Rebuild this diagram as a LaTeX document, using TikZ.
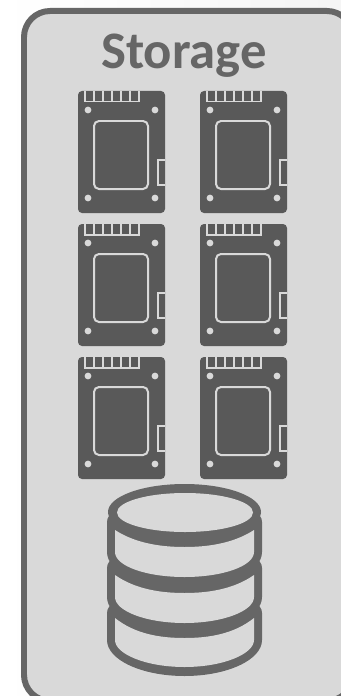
\documentclass[tikz,border=0pt]{standalone}
\usepackage{fontspec}
\setmainfont{Carlito}
\usepackage{xcolor}
\usetikzlibrary{positioning}
\definecolor{panelgray}{HTML}{D9D9D9}
\definecolor{framegray}{HTML}{666666}
\definecolor{drivegray}{HTML}{595959}
% one drive, #1/#2 = top left corner
\newcommand{\ssddrive}[2]{%
  \begin{scope}[shift={(#1,#2)}]
    \fill[drivegray, rounded corners=0.08cm] (0,0) rectangle (87,122);
    \draw[drvline] (7,0) -- (7,10.5) -- (61,10.5) -- (61,0);
    \foreach \tx in {16,25,34,43,52} \draw[drvline] (\tx,0) -- (\tx,10.5);
    \draw[drvline, rounded corners=0.1cm] (16,30) rectangle (70,98);
    \draw[drvline] (87,69) -- (80,69) -- (80,94) -- (87,94);
    \fill[panelgray] (10,19) circle (3.4) (77,19) circle (3.4) (10,107) circle (3.4) (77,107) circle (3.4);
  \end{scope}}
% outer shape of one disc: top, side end, bottom
\newcommand{\dblayer}[3]{%
  \fill[framegray] (118,#1) .. controls (110,#1+3) and (107,#1+7) .. (107,#1+12) -- (107,#2)
    .. controls (107,#2+20) and (142,#3) .. (184.5,#3)
    .. controls (227,#3) and (262,#2+20) .. (262,#2)
    -- (262,#1+12) .. controls (262,#1+7) and (259,#1+3) .. (251,#1) -- cycle;}
% inner face of one disc: top side, top centre, bottom side, bottom centre
\newcommand{\dbface}[4]{%
  \fill[panelgray] (115,#1) .. controls (135,#2-4) and (160,#2) .. (184.5,#2)
    .. controls (209,#2) and (234,#2-4) .. (254,#1) -- (254,#3)
    .. controls (254,#3+14) and (223,#4) .. (184.5,#4)
    .. controls (146,#4) and (115,#3+14) .. (115,#3) -- cycle;}
\begin{document}
\begin{tikzpicture}[x=0.02cm, y=-0.02cm,
  drvline/.style={draw=panelgray, line width=0.04cm},
]
\useasboundingbox (0,0) rectangle (341,696);
\shade[left color=white, right color=black!4] (0,0) rectangle (341,696);
% ---------------- panel ----------------
\node[draw=framegray, fill=panelgray, line width=0.12cm, rounded corners=0.52cm,
      minimum width=6.58cm, minimum height=13.8cm, inner sep=0pt, anchor=north west] (panel) at (21,8) {};
\node[font=\fontsize{30}{36}\selectfont\bfseries, text=framegray, inner sep=0pt] (title) at (184,56) {Storage};
% ---------------- drives ----------------
\ssddrive{78}{91}
\ssddrive{200}{91}
\ssddrive{78}{224}
\ssddrive{200}{224}
\ssddrive{78}{357}
\ssddrive{200}{357}
% ---------------- database ----------------
\dblayer{601}{640}{676}
\dblayer{556}{597}{633}
\dblayer{510}{552}{588}
\fill[framegray] (184.5,512) ellipse [x radius=76.5, y radius=28];
\dbface{618}{638}{640}{667}
\dbface{575}{593}{597}{623}
\dbface{530}{547}{552}{577}
\fill[panelgray] (185,512.5) ellipse [x radius=68, y radius=19.5];
\end{tikzpicture}
\end{document}
